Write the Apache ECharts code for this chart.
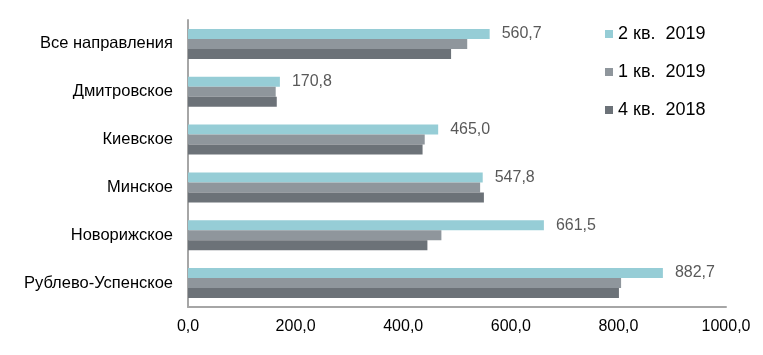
<!DOCTYPE html>
<html><head><meta charset="utf-8">
<script src="https://cdn.jsdelivr.net/npm/echarts@6/dist/echarts.min.js"></script>
<style>html,body{margin:0;padding:0;background:#fff}#c{width:763px;height:355px}</style>
</head><body><div id="c"></div>
<script>
const categories = ['Все направления','Дмитровское','Киевское','Минское','Новорижское','Рублево-Успенское'];
const seriesNames = ['2 кв.  2019','1 кв.  2019','4 кв.  2018'];
const q2_2019 = [560.7, 170.8, 465.0, 547.8, 661.5, 882.7];
const q1_2019 = [519, 163, 440, 543, 471, 805];
const q4_2018 = [489, 165, 436, 550, 445, 801];
const xTicks = [0, 200, 400, 600, 800, 1000];
const colors = ['#96CDD6', '#8F969C', '#6C7278'];
const fmt = v => Number(v).toFixed(1).replace('.', ',');

const chart = echarts.init(document.getElementById('c'), null, {renderer: 'canvas'});
const mk = (name, data, color, label) => ({
  name, type: 'bar', data, barWidth: 10, barGap: '0%',
  itemStyle: {color},
  label: label ? {show: true, position: 'right', distance: 12, color: '#595959',
    fontSize: 16, fontFamily: 'Liberation Sans, Arial, sans-serif', formatter: p => fmt(p.value)} : {show: false}
});
chart.setOption({
  animation: false,
  grid: {left: 188, right: 37, top: 20, bottom: 48, containLabel: false},
  legend: {
    orient: 'vertical', left: 600, top: 20, itemWidth: 8, itemHeight: 8, itemGap: 20,
    icon: 'rect',
    textStyle: {fontSize: 18, color: '#000', fontFamily: 'Liberation Sans, Arial, sans-serif'},
    data: seriesNames
  },
  xAxis: {
    type: 'value', min: xTicks[0], max: xTicks[xTicks.length - 1], interval: 200,
    splitLine: {show: false},
    axisLine: {show: true, lineStyle: {color: '#A6A6A6', width: 2}},
    axisTick: {show: false},
    axisLabel: {margin: 12, fontSize: 16, color: '#000', fontFamily: 'Liberation Sans Narrow, Arial Narrow, Liberation Sans, sans-serif', formatter: v => fmt(v)}
  },
  yAxis: {
    type: 'category', data: categories, inverse: true,
    axisLine: {show: true, lineStyle: {color: '#A6A6A6', width: 2}},
    axisTick: {show: false},
    axisLabel: {margin: 15, fontSize: 16.5, color: '#000', fontFamily: 'Liberation Sans, Arial, sans-serif'}
  },
  series: [
    mk(seriesNames[0], q2_2019, colors[0], true),
    mk(seriesNames[1], q1_2019, colors[1], false),
    mk(seriesNames[2], q4_2018, colors[2], false)
  ]
});
</script></body></html>
